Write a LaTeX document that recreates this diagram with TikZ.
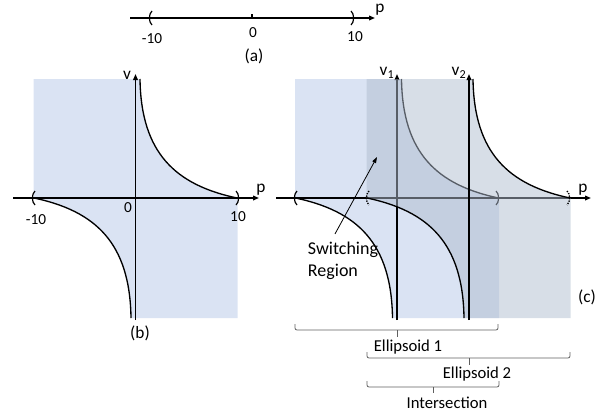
\documentclass[tikz,border=0pt]{standalone}
\usepackage{fontspec}
\setmainfont{Carlito}
\usetikzlibrary{arrows.meta, positioning}
\definecolor{ellone}{RGB}{218,227,243}
\definecolor{elltwo}{RGB}{176,189,207}
\definecolor{bracegray}{RGB}{95,95,95}

\begin{document}
\begin{tikzpicture}[x=0.75pt, y=-0.75pt,
    axisline/.style={line width=1.1pt, -{Triangle[length=4.5pt, width=3.5pt]}},
    hypline/.style={line width=1pt},
    brk/.style={line width=0.9pt},
    dotbrk/.style={line width=1pt, dash pattern=on 1pt off 0.9pt},
    brace/.style={draw=bracegray, line width=0.6pt, rounded corners=1.5pt},
    pointer/.style={line width=0.6pt, -{Triangle[length=4.5pt, width=3pt]}},
    num/.style={font=\fontsize{11.5}{13}\selectfont, inner sep=0pt},
    paneltag/.style={font=\fontsize{13}{15}\selectfont, inner sep=0pt},
    elfont/.style={font=\fontsize{12.5}{14}\selectfont, inner sep=0pt},
    hypregion/.pic={\path[pic actions] (-102,79) -- (-102,198) -- (-101.5,198)
        .. controls (-40,211) and (-5.5,243) .. (-4.5,318) -- (102,318) -- (102,198) -- (101.5,198)
        .. controls (40,185) and (5.5,153) .. (4.5,79) -- cycle;},
    hypcurves/.pic={\draw[pic actions] (-101.5,198) .. controls (-40,211) and (-5.5,243) .. (-4.5,318);
        \draw[pic actions] (4.5,79) .. controls (5.5,153) and (40,185) .. (101.5,198);},
    lbr/.pic={\draw[pic actions] (2,-7) .. controls (-1.5,-4) and (-1.5,4) .. (2,7);},
    rbr/.pic={\draw[pic actions] (-2,-7) .. controls (1.5,-4) and (1.5,4) .. (-2,7);}
]
\useasboundingbox (0,0) rectangle (613,418);

% (a)
\draw[axisline] (130,18) -- (375,18);
\draw[brk] (252,14) -- (252,18);
\pic[brk] at (150,18) {lbr};
\pic[brk] at (353,18) {rbr};
\node[num] (amin) at (152,39) {-10};
\node[num] (azero) at (253,33) {0};
\node[num] (amax) at (355,37) {10};
\node[paneltag] (ap) at (380,10) {p};
\node[paneltag] (atag) at (254,56) {(a)};

% (b)
\pic[fill=ellone] at (135.5,0) {hypregion};
\draw[axisline] (13,198) -- (259,198);
\draw[axisline] (135.5,320) -- (135.5,74);
\pic[hypline] at (135.5,0) {hypcurves};
\pic[brk] at (33,198) {lbr};
\pic[brk] at (238,198) {rbr};
\node[num] (bmin) at (36,220) {-10};
\node[num] (bzero) at (128,208) {0};
\node[num] (bmax) at (238,217) {10};
\node[paneltag] (bp) at (261,190) {p};
\node[paneltag] (bv) at (127,75) {v};
\node[paneltag] (btag) at (140,333) {(b)};

% (c)
\pic[fill=ellone] at (397,0) {hypregion};
\draw[axisline] (276,198) -- (591,198);
\draw[axisline] (397,320) -- (397,74);
\pic[hypline] at (397,0) {hypcurves};
\pic[brk] at (295,198) {lbr};
\pic[brk] at (498,198) {rbr};
\pic[fill=elltwo, fill opacity=0.5] at (468.5,0) {hypregion};
\draw[axisline] (469,320) -- (469,74);
\pic[hypline] at (468.5,0) {hypcurves};
\pic[dotbrk] at (367,198) {lbr};
\pic[dotbrk] at (569,198) {rbr};
\node[paneltag] (vone) at (387,73) {v\textsubscript{1}};
\node[paneltag] (vtwo) at (459,73) {v\textsubscript{2}};
\node[paneltag] (cp) at (583,190) {p};
\node[paneltag] (ctag) at (587,297) {(c)};

\node[font=\fontsize{13.5}{16.5}\selectfont, inner sep=0pt, align=left] (swlab) at (343,261) {Switching\\Region};
\coordinate (swtip) at (377,157);
\draw[pointer] ([shift={(-6pt,6pt)}]swlab.north) -- (swtip);

\draw[brace] (295,324) -- (295,330) -- (498,330) -- (498,324);
\draw[brace] (397,330) -- (397,337);
\node[elfont] (eonelab) at (408,347) {Ellipsoid 1};
\draw[brace] (367,352) -- (367,358) -- (570,358) -- (570,352);
\draw[brace] (469,358) -- (469,365);
\node[elfont] (etwolab) at (477,374) {Ellipsoid 2};
\draw[brace] (367,381) -- (367,387) -- (499,387) -- (499,381);
\draw[brace] (433,387) -- (433,393);
\node[elfont] (intlab) at (447,403) {Intersection};
\end{tikzpicture}
\end{document}
